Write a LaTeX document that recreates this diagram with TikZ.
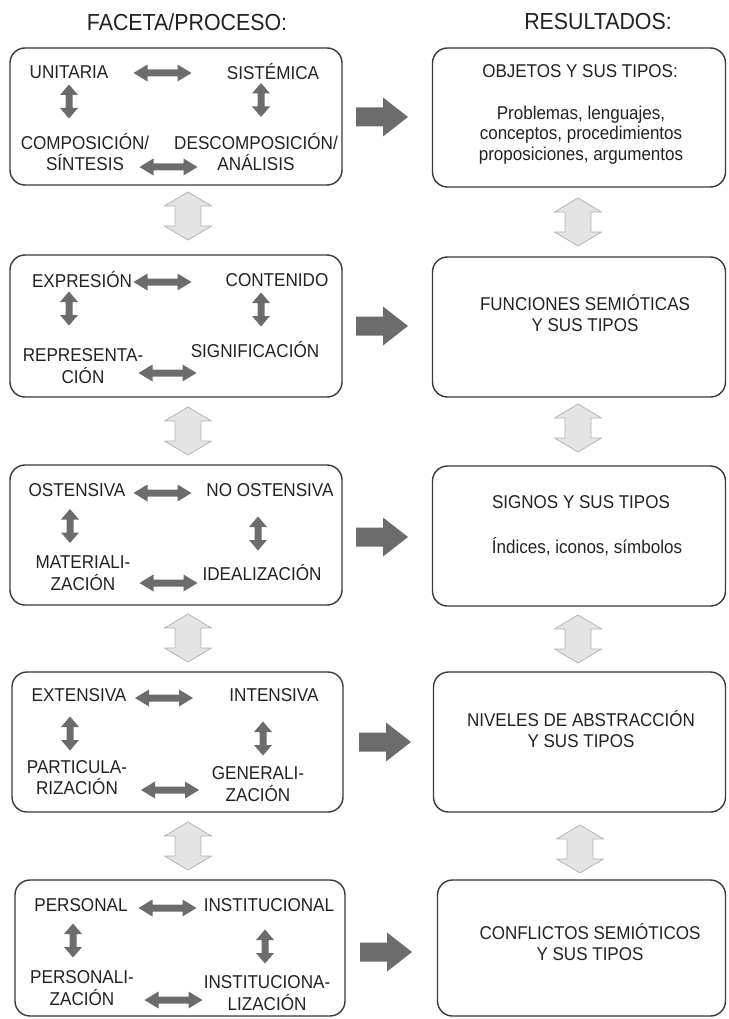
\documentclass[tikz,border=0pt]{standalone}
\usepackage{fontspec}
\setmainfont{Liberation Sans}[FakeStretch=0.92]
\definecolor{darkarr}{HTML}{6C6C6C}
\definecolor{lightarr}{HTML}{E4E4E4}
\definecolor{lightedge}{HTML}{B5B5B5}
\definecolor{boxline}{HTML}{3A3A3A}
\definecolor{txt}{HTML}{222222}
\begin{document}
\begin{tikzpicture}[x=1pt,y=-1pt,
  box/.style={draw=boxline, line width=1.4pt, rounded corners=15pt, inner sep=0pt},
  lbl/.style={text=txt, font=\fontsize{18.6}{21.5}\selectfont, align=center, inner sep=0pt},
  rlbl/.style={text=txt, font=\fontsize{18.5}{20.5}\selectfont, align=center, inner sep=0pt},
  ttl/.style={text=txt, font=\fontsize{23.2}{27}\selectfont, inner sep=0pt},
  pics/hdbl/.style={code={\fill[darkarr] (-29,0) -- (-15,-8.5) -- (-15,-3.5) -- (15,-3.5) -- (15,-8.5) -- (29,0) -- (15,8.5) -- (15,3.5) -- (-15,3.5) -- (-15,8.5) -- cycle;}},
  pics/vdbl/.style={code={\fill[darkarr] (0,-17) -- (9,-6.5) -- (3.5,-6.5) -- (3.5,6.5) -- (9,6.5) -- (0,17) -- (-9,6.5) -- (-3.5,6.5) -- (-3.5,-6.5) -- (-9,-6.5) -- cycle;}},
  pics/lightv/.style={code={\filldraw[fill=lightarr, draw=lightedge, line width=0.8pt, line join=round] (0,-24) -- (23.5,-10) -- (13,-10) -- (13,10) -- (23.5,10) -- (0,24) -- (-23.5,10) -- (-13,10) -- (-13,-10) -- (-23.5,-10) -- cycle;}},
  pics/bigr/.style={code={\fill[darkarr] (-26,-9.5) -- (1,-9.5) -- (1,-19.5) -- (26,0) -- (1,19.5) -- (1,9.5) -- (-26,9.5) -- cycle;}}
]
\useasboundingbox (0,0) rectangle (728,1019);
\fill[white] (0,0) rectangle (728,1019);

% titles
\node[ttl] (t1) at (187,22) {FACETA/PROCESO:};
\node[ttl] (t2) at (598,22) {RESULTADOS:};

% left boxes
\node[box, minimum width=332pt, minimum height=137pt] (L1) at (176,116.5) {};
\node[box, minimum width=332pt, minimum height=142pt] (L2) at (176,326) {};
\node[box, minimum width=332pt, minimum height=140pt] (L3) at (176,535) {};
\node[box, minimum width=331pt, minimum height=140pt] (L4) at (177.5,742) {};
\node[box, minimum width=330pt, minimum height=136pt] (L5) at (180,948) {};

% right boxes
\node[box, minimum width=293pt, minimum height=139pt] (R1) at (579,117.5) {};
\node[box, minimum width=293pt, minimum height=140pt] (R2) at (579,327) {};
\node[box, minimum width=293pt, minimum height=140pt] (R3) at (579,536) {};
\node[box, minimum width=292pt, minimum height=140pt] (R4) at (579.5,742) {};
\node[box, minimum width=288pt, minimum height=136pt] (R5) at (581.5,948) {};

% right box texts
\node[rlbl] (r1a) at (580,71) {OBJETOS Y SUS TIPOS:};
\node[rlbl] (r1b) at (581,135) {Problemas, lenguajes,\\conceptos, procedimientos\\proposiciones, argumentos};
\node[rlbl] (r2) at (585,313) {FUNCIONES SEMIÓTICAS\\Y SUS TIPOS};
\node[rlbl] (r3a) at (581,502) {SIGNOS Y SUS TIPOS};
\node[rlbl] (r3b) at (587,547) {Índices, iconos, símbolos};
\node[rlbl] (r4) at (581,729) {NIVELES DE ABSTRACCIÓN\\Y SUS TIPOS};
\node[rlbl] (r5) at (590,942) {CONFLICTOS SEMIÓTICOS\\Y SUS TIPOS};

% big arrows
\pic (b1) at (382,117) {bigr};
\pic (b2) at (382,326) {bigr};
\pic (b3) at (382,537) {bigr};
\pic (b4) at (385,742) {bigr};
\pic (b5) at (386,952) {bigr};

% light arrows left
\pic (la1) at (188,216) {lightv};
\pic (la2) at (188,431) {lightv};
\pic (la3) at (188,638) {lightv};
\pic (la4) at (188,846) {lightv};
% light arrows right
\pic (ra1) at (578,222) {lightv};
\pic (ra2) at (578,428) {lightv};
\pic (ra3) at (578,639) {lightv};
\pic (ra4) at (580,849) {lightv};

% box 1
\node[lbl] (a1) at (69,72) {UNITARIA};
\node[lbl] (a2) at (273,72) {SISTÉMICA};
\node[lbl] (a3) at (85,152) {COMPOSICIÓN/\\SÍNTESIS};
\node[lbl] (a4) at (256,152) {DESCOMPOSICIÓN/\\ANÁLISIS};
\pic (a12) at (162.5,73) {hdbl};
\pic (a13) at (69,101.5) {vdbl};
\pic (a24) at (261,100) {vdbl};
\pic (a34) at (168.5,167) {hdbl};

% box 2
\node[lbl] (c1) at (82,280) {EXPRESIÓN};
\node[lbl] (c2) at (277,280) {CONTENIDO};
\node[lbl] (c3) at (83,366) {REPRESENTA-\\CIÓN};
\node[lbl] (c4) at (255,350) {SIGNIFICACIÓN};
\pic (c12) at (162.5,282) {hdbl};
\pic (c13) at (69,308.5) {vdbl};
\pic (c24) at (261,309.5) {vdbl};
\pic (c34) at (167.5,373) {hdbl};

% box 3
\node[lbl] (e1) at (77,490) {OSTENSIVA};
\node[lbl] (e2) at (270,490) {NO OSTENSIVA};
\node[lbl] (e3) at (83,573) {MATERIALI-\\ZACIÓN};
\node[lbl] (e4) at (262,573) {IDEALIZACIÓN};
\pic (e12) at (162.5,493) {hdbl};
\pic (e13) at (70,526) {vdbl};
\pic (e24) at (258,533.5) {vdbl};
\pic (e34) at (168.5,583) {hdbl};

% box 4
\node[lbl] (g1) at (79,695) {EXTENSIVA};
\node[lbl] (g2) at (274,695) {INTENSIVA};
\node[lbl] (g3) at (77,777.5) {PARTICULA-\\RIZACIÓN};
\node[lbl] (g4) at (258,784) {GENERALI-\\ZACIÓN};
\pic (g12) at (164,698) {hdbl};
\pic (g13) at (70,733.5) {vdbl};
\pic (g24) at (263,738.5) {vdbl};
\pic (g34) at (170,790) {hdbl};

% box 5
\node[lbl] (p1) at (81,905) {PERSONAL};
\node[lbl] (p2) at (269,905) {INSTITUCIONAL};
\node[lbl] (p3) at (82,988) {PERSONALI-\\ZACIÓN};
\node[lbl] (p4) at (267,993) {INSTITUCIONA-\\LIZACIÓN};
\pic (p12) at (167.5,908) {hdbl};
\pic (p13) at (73,940.5) {vdbl};
\pic (p24) at (265,946.5) {vdbl};
\pic (p34) at (173.5,1000) {hdbl};
\end{tikzpicture}
\end{document}
